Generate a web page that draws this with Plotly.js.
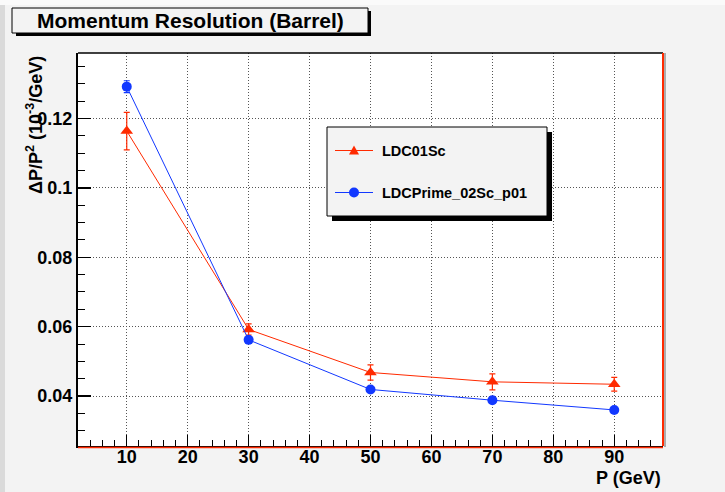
<!DOCTYPE html>
<html><head><meta charset="utf-8">
<script src="https://cdn.plot.ly/plotly-3.0.1.min.js"></script>
<style>html,body{margin:0;padding:0;background:#f3f3f3;overflow:hidden}</style>
</head><body><div id="chart" style="width:725px;height:492px"></div>
<script>
// ---- data ----
const momentum = [10, 30, 50, 70, 90];
const ldc01Sc = [0.1164, 0.0592, 0.0468, 0.0441, 0.0434];
const ldc01ScErr = [0.0054, 0.0016, 0.0022, 0.0023, 0.0020];
const ldcPrime = [0.1292, 0.0562, 0.0419, 0.0388, 0.0360];
const ldcPrimeErr = [0.0017, 0.0005, 0.0005, 0.0005, 0.0005];
const seriesNames = ['LDC01Sc', 'LDCPrime_02Sc_p01'];
const xTickVals = [10, 20, 30, 40, 50, 60, 70, 80, 90];
const yTickVals = [0.04, 0.06, 0.08, 0.1, 0.12];
const yTickText = ['0.04', '0.06', '0.08', '0.1', '0.12'];
const chartTitle = 'Momentum Resolution (Barrel)';
const xTitle = 'P (GeV)';
const yTitle = '\u0394P/P<sup>2</sup> (10<sup>-3</sup>/GeV)';

// ---- styling ----
const RED = '#ff2a00', BLUE = '#1238ff', BG = '#f3f3f3';
const FONT = 'Liberation Sans, Arial, Helvetica, sans-serif';
const L = 78, R = 663, T = 53, B = 446;
const px = p => (p - L) / (R - L);
const py = p => (B - p) / (B - T);

const traces = [
  {x: momentum, y: ldc01Sc, name: seriesNames[0], type: 'scatter', mode: 'lines+markers',
   line: {color: RED, width: 1}, marker: {symbol: 'triangle-up', size: 11, color: RED},
   error_y: {type: 'data', array: ldc01ScErr, color: RED, thickness: 1.2, width: 3}},
  {x: momentum, y: ldcPrime, name: seriesNames[1], type: 'scatter', mode: 'lines+markers',
   line: {color: BLUE, width: 1}, marker: {symbol: 'circle', size: 10, color: BLUE},
   error_y: {type: 'data', array: ldcPrimeErr, color: BLUE, thickness: 1.2, width: 3}}
];

function rect(x0, y0, x1, y1, fill, line, lw) {
  return {type: 'rect', xref: 'paper', yref: 'paper', x0: px(x0), x1: px(x1), y0: py(y0), y1: py(y1),
    fillcolor: fill, line: {color: line || fill, width: lw === undefined ? 0 : lw}, layer: 'above'};
}
function seg(x0, y0, x1, y1, color, w) {
  return {type: 'line', xref: 'paper', yref: 'paper', x0: px(x0), x1: px(x1), y0: py(y0), y1: py(y1),
    line: {color: color, width: w}, layer: 'above'};
}

const shapes = [
  // window edges
  rect(0, 0, 5, 492, '#dadada'),
  rect(0, 0, 725, 5, '#fafafa'),
  // frame extras
  seg(L, T, R, T, '#000', 1.5),
  seg(R, T, R, B, RED, 2),
  seg(R + 2, T, R + 2, B + 1, '#666', 1),
  seg(L, B + 1.5, R, B + 1.5, RED, 1.5),
  // title box
  rect(16, 11, 371, 36, '#000'),
  rect(12, 8, 368, 33, BG, '#000', 1),
  // legend box
  rect(332, 132, 552, 221, '#000'),
  rect(327, 127, 547, 216, BG, '#000', 1),
  seg(335, 150.5, 373, 150.5, RED, 1),
  {type: 'path', xref: 'paper', yref: 'paper', layer: 'above', fillcolor: RED, line: {color: RED, width: 0},
   path: `M ${px(349)} ${py(154.5)} L ${px(359)} ${py(154.5)} L ${px(354)} ${py(145.5)} Z`},
  seg(335, 192.5, 373, 192.5, BLUE, 1),
  {type: 'circle', xref: 'paper', yref: 'paper', layer: 'above', fillcolor: BLUE, line: {color: BLUE, width: 0},
   x0: px(349), x1: px(359), y0: py(187.5), y1: py(197.5)}
];

const annotations = [
  {text: chartTitle, xref: 'paper', yref: 'paper', x: px(190), y: py(21), xanchor: 'center', yanchor: 'middle',
   showarrow: false, font: {family: FONT, size: 21, color: '#000', weight: 'bold'}},
  {text: seriesNames[0], xref: 'paper', yref: 'paper', x: px(380), y: py(151), xanchor: 'left', yanchor: 'middle',
   showarrow: false, font: {family: FONT, size: 14.5, color: '#000', weight: 'bold'}},
  {text: seriesNames[1], xref: 'paper', yref: 'paper', x: px(380), y: py(193), xanchor: 'left', yanchor: 'middle',
   showarrow: false, font: {family: FONT, size: 14.5, color: '#000', weight: 'bold'}},
  {text: xTitle, xref: 'paper', yref: 'paper', x: px(663), y: py(478), xanchor: 'right', yanchor: 'middle',
   showarrow: false, font: {family: FONT, size: 18, color: '#000', weight: 'bold'}},
  {text: yTitle, xref: 'paper', yref: 'paper', x: px(35), y: py(54), xanchor: 'center', yanchor: 'top',
   textangle: -90, showarrow: false, font: {family: FONT, size: 18, color: '#000', weight: 'bold'}}
];

const tickFont = {family: FONT, size: 18, color: '#000', weight: 'bold'};
const GRID = {showgrid: true, gridcolor: '#555', griddash: '1px,2px', gridwidth: 1, zeroline: false};
const layout = {
  width: 725, height: 492,
  margin: {l: L, r: 725 - R, t: T, b: 492 - B, pad: 0},
  paper_bgcolor: BG, plot_bgcolor: '#ffffff',
  showlegend: false,
  xaxis: Object.assign({range: [2, 98], tickvals: xTickVals, ticks: 'inside', ticklen: 11, tickwidth: 1.2, tickcolor: '#000',
    showline: true, linecolor: '#000', linewidth: 2, tickfont: tickFont, ticklabelstandoff: -7,
    minor: {dtick: 2, tick0: 0, ticks: 'inside', ticklen: 6, tickcolor: '#000', tickwidth: 1, showgrid: false}}, GRID),
  yaxis: Object.assign({range: [0.0256, 0.1389], tickvals: yTickVals, ticktext: yTickText, ticks: 'inside', ticklen: 13,
    tickwidth: 1.2, tickcolor: '#000',
    showline: true, linecolor: '#000', linewidth: 2, tickfont: tickFont,
    minor: {dtick: 0.005, tick0: 0, ticks: 'inside', ticklen: 7, tickcolor: '#000', tickwidth: 1, showgrid: false}}, GRID),
  shapes: shapes,
  annotations: annotations
};

Plotly.newPlot('chart', traces, layout, {displayModeBar: false, staticPlot: true});
</script>
</body></html>
